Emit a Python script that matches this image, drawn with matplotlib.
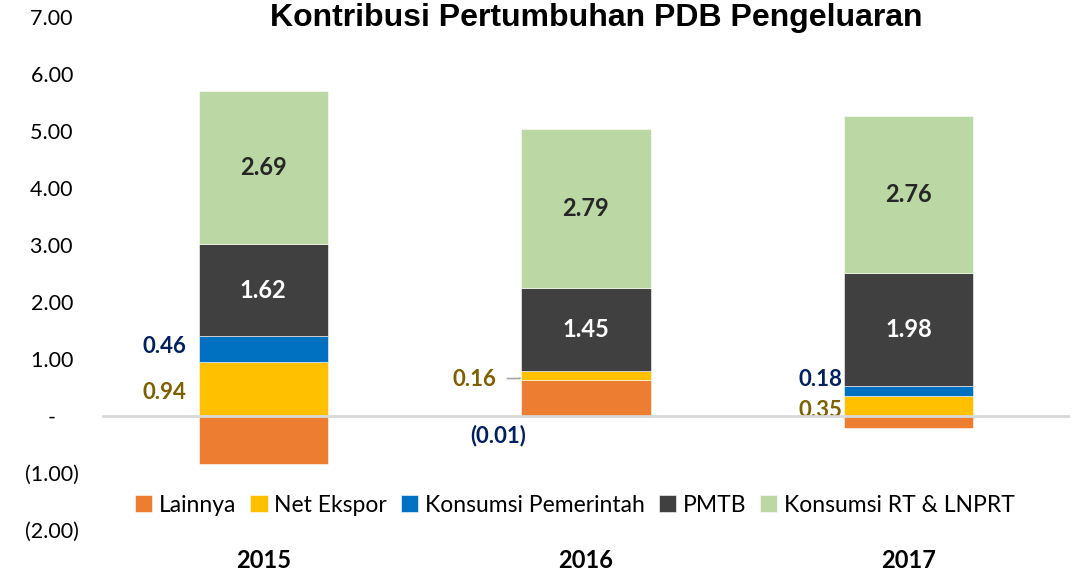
import numpy as np
import matplotlib.pyplot as plt

plt.rcParams['font.family'] = ['Lato', 'DejaVu Sans']

years = ['2015', '2016', '2017']
series = ['Lainnya', 'Net Ekspor', 'Konsumsi Pemerintah', 'PMTB', 'Konsumsi RT & LNPRT']
lainnya = [-0.84, 0.63, -0.21]
net_ekspor = [0.94, 0.16, 0.35]
konsumsi_pem = [0.46, -0.01, 0.18]
pmtb = [1.62, 1.45, 1.98]
konsumsi_rt = [2.69, 2.79, 2.76]
yticks = [-2, -1, 0, 1, 2, 3, 4, 5, 6, 7]
ytick_labels = ['(2.00)', '(1.00)', '-    ', '1.00 ', '2.00 ', '3.00 ', '4.00 ',
                '5.00 ', '6.00 ', '7.00 ']

colors = ['#ED7D31', '#FFC000', '#0070C0', '#404040', '#BAD7A4']
values = np.array([lainnya, net_ekspor, konsumsi_pem, pmtb, konsumsi_rt])

fig = plt.figure(figsize=(10.76, 5.77), dpi=100)
ax = fig.add_axes([0.0948, 0.0815, 0.8996, 0.889])

x = np.arange(len(years))
w = 0.4
pos_base = np.zeros(len(years))
neg_base = np.zeros(len(years))
bottoms = []
for vals, name, c in zip(values, series, colors):
    b = np.where(vals >= 0, pos_base, neg_base)
    ax.bar(x, vals, w, bottom=b, color=c, label=name, edgecolor='white', linewidth=0.4)
    bottoms.append(b)
    pos_base = pos_base + np.where(vals >= 0, vals, 0)
    neg_base = neg_base + np.where(vals < 0, vals, 0)

navy = '#002060'
olive = '#7F6000'

def fmt(v):
    return '(%.2f)' % abs(v) if v < 0 else '%.2f' % v

# labels inside the big segments
for k, tc in [(3, 'white'), (4, '#262626')]:
    for i in range(len(years)):
        v = values[k][i]
        ax.text(x[i], bottoms[k][i] + v / 2, fmt(v), ha='center', va='center',
                fontsize=17, fontweight='bold', color=tc)

# labels for the small segments, (series, year, dx px, dy px, colour)
small = [(1, 0, -12, -3, olive), (2, 0, -12, 3, navy),
         (1, 1, -25, -4, olive), (2, 1, -88, -19, navy),
         (1, 2, -2, -4, olive), (2, 2, -2, 11, navy)]
for k, i, dx, dy, tc in small:
    v = values[k][i]
    yc = bottoms[k][i] + v / 2
    ha = 'right'
    xa = x[i] - w / 2
    if k == 2 and i == 1:
        ha = 'center'
        xa = x[i]
    ax.annotate(fmt(v), (xa, yc), xytext=(dx, dy), textcoords='offset pixels',
                ha=ha, va='center', fontsize=16, fontweight='bold', color=tc,
                annotation_clip=False)

# leader line for 2016 net ekspor
yc = bottoms[1][1] + values[1][1] / 2
ax.annotate('', (x[1] - w / 2, yc), xytext=(-17, -3), textcoords='offset pixels',
            arrowprops=dict(arrowstyle='-', color='#A6A6A6', lw=1.2,
                            connectionstyle='angle,angleA=0,angleB=60,rad=0'))

ax.axhline(0, color='#D9D9D9', lw=2, zorder=5)

ax.set_xlim(-0.5, 2.5)
ax.set_ylim(-2, 7)
ax.set_yticks(yticks)
ax.set_yticklabels(ytick_labels, fontsize=15.5)
ax.set_xticks(x)
ax.set_xticklabels(years, fontsize=17, fontweight='bold')
ax.tick_params(axis='y', length=0, pad=17)
ax.tick_params(axis='x', length=0, pad=14)
for s in ax.spines.values():
    s.set_visible(False)

fig.text(596 / 1076, 1 - 18 / 577, 'Kontribusi Pertumbuhan PDB Pengeluaran',
         ha='center', va='center', fontsize=23, fontweight='bold',
         family='Liberation Sans')

fig.legend(loc='center', bbox_to_anchor=(575 / 1076, 1 - 505 / 577), ncol=5,
           frameon=False, fontsize=16.5, handlelength=0.75, handleheight=0.75,
           handletextpad=0.3, columnspacing=0.6, borderaxespad=0)

fig.savefig('out.png', dpi=100)
